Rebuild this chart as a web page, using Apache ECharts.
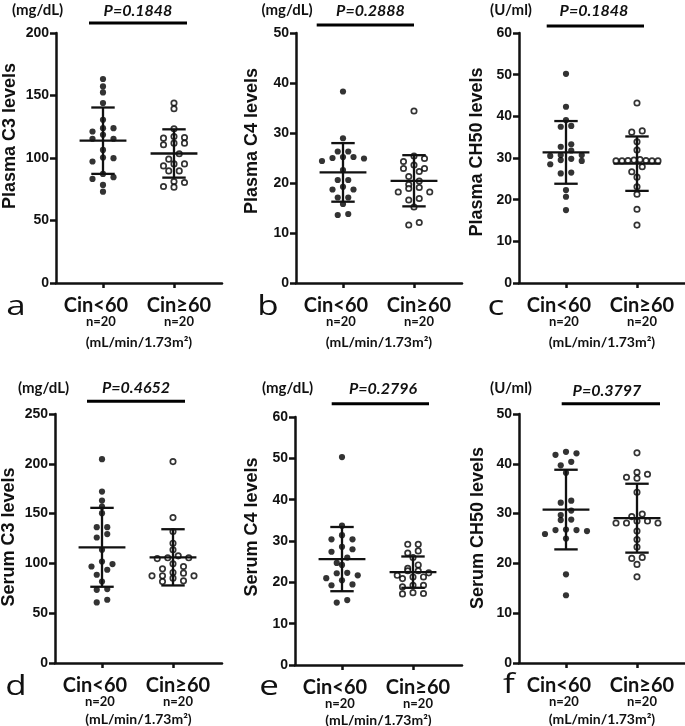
<!DOCTYPE html>
<html><head><meta charset="utf-8">
<script src="https://cdn.jsdelivr.net/npm/echarts@6/dist/echarts.min.js"></script>
<style>html,body{margin:0;padding:0;background:#fff}#chart{width:685px;height:726px}</style>
</head><body><div id="chart"></div>
<script>
// ---------------- DATA ----------------
const categories = ['Cin<60', 'Cin\u226560'];
const nLabels = ['n=20', 'n=20'];
const xUnitLabel = '(mL/min/1.73m\u00b2)';
const panelLetters = ['a', 'b', 'c', 'd', 'e', 'f'];
const yTitles = ['Plasma C3 levels', 'Plasma C4 levels', 'Plasma CH50 levels', 'Serum C3 levels', 'Serum C4 levels', 'Serum CH50 levels'];
const unitLabels = ['(mg/dL)', '(mg/dL)', '(U/ml)', '(mg/dL)', '(mg/dL)', '(U/ml)'];
const pValues = ['P=0.1848', 'P=0.2888', 'P=0.1848', 'P=0.4652', 'P=0.2796', 'P=0.3797'];
const yMax = [200, 50, 60, 250, 60, 50];
const yInterval = [50, 10, 10, 50, 10, 10];

const plasmaC3_lt60 = [163.2, 157.3, 152.5, 144.0, 130.6, 123.9, 123.9, 121.2, 118.6, 115.4, 115.4, 106.5, 99.9, 100.4, 97.2, 87.3, 84.7, 83.3, 78.5, 73.1];
const plasmaC3_ge60 = [144.0, 139.4, 123.4, 116.4, 115.9, 117.2, 111.9, 110.6, 111.9, 103.4, 99.1, 95.3, 93.7, 95.3, 89.7, 89.7, 80.4, 81.2, 76.7, 77.2];
const plasmaC4_lt60 = [38.3, 28.95, 26.3, 26.3, 25.2, 25.0, 25.2, 24.9, 24.4, 22.6, 20.6, 20.6, 19.25, 18.7, 18.7, 17.1, 17.1, 15.8, 13.6, 13.8];
const plasmaC4_ge60 = [34.4, 25.4, 24.9, 24.3, 23.6, 22.9, 22.9, 22.3, 21.3, 20.4, 19.7, 19.1, 18.9, 18.2, 18.2, 16.9, 16.6, 15.2, 12.1, 11.6];
const plasmaCH50_lt60 = [50.2, 42.3, 39.1, 37.5, 37.7, 33.3, 32.7, 31.8, 30.5, 30.7, 30.7, 29.3, 29.5, 29.8, 28.5, 26.5, 26.3, 22.3, 20.7, 17.5];
const plasmaCH50_ge60 = [43.2, 36.5, 36.2, 33.9, 31.9, 29.5, 29.3, 29.3, 29.4, 29.4, 29.3, 29.3, 29.6, 27.9, 26.7, 25.4, 23.1, 21.3, 17.7, 13.9];
const serumC3_lt60 = [204.6, 172.1, 163.1, 157.0, 150.4, 136.4, 136.4, 129.4, 126.0, 113.6, 101.9, 96.9, 99.3, 93.6, 88.6, 81.8, 73.5, 74.2, 60.8, 63.5];
const serumC3_ge60 = [202.2, 146.0, 132.0, 120.3, 113.6, 105.6, 107.6, 105.6, 104.8, 99.6, 94.6, 96.9, 87.5, 87.5, 90.9, 90.2, 87.5, 81.8, 85.2, 82.5];
const serumC4_lt60 = [50.3, 33.7, 31.4, 30.4, 30.4, 28.6, 28.0, 27.4, 26.0, 24.7, 24.2, 22.3, 22.2, 21.7, 21.0, 20.5, 19.5, 19.3, 15.7, 15.1];
const serumC4_ge60 = [29.2, 29.2, 27.6, 27.1, 26.0, 24.2, 23.4, 22.8, 22.8, 22.3, 21.7, 21.3, 21.3, 20.9, 19.3, 19.3, 18.9, 17.5, 17.3, 17.2];
const serumCH50_lt60 = [42.4, 42.1, 41.8, 40.4, 39.7, 38.2, 32.6, 32.2, 30.6, 29.7, 28.8, 28.7, 26.8, 26.7, 26.7, 26.5, 25.9, 25.0, 17.8, 13.6];
const serumCH50_ge60 = [42.2, 38.3, 37.9, 37.3, 37.1, 34.3, 29.9, 29.4, 28.5, 28.5, 28.1, 28.1, 28.1, 26.5, 24.8, 23.3, 21.2, 21.0, 19.8, 17.3];

const groupsLt60 = [plasmaC3_lt60, plasmaC4_lt60, plasmaCH50_lt60, serumC3_lt60, serumC4_lt60, serumCH50_lt60];
const groupsGe60 = [plasmaC3_ge60, plasmaC4_ge60, plasmaCH50_ge60, serumC3_ge60, serumC4_ge60, serumCH50_ge60];

// ---------------- LAYOUT / STYLE ----------------
const grids = [
  {left: 56, top: 33, width: 166, height: 250},
  {left: 296, top: 33, width: 166, height: 250},
  {left: 519, top: 33, width: 166, height: 250},
  {left: 55, top: 414, width: 167, height: 249},
  {left: 295, top: 417, width: 167, height: 248},
  {left: 519, top: 414, width: 166, height: 249}
];
const nameGaps = [52, 52, 52, 49, 48, 49];
const CAT_PX = 71, FIRST_PX = 47;
const LABEL_SHIFT = [-0.1, 0.07];   // label anchor offset from category tick (axis units)
const yTitlePos = [[10, 136], [252, 141], [477, 152], [9, 537], [252, 527], [478, 528]];
const unitPos = [[37.5, 10], [287, 10], [511, 10], [43.5, 388], [287.5, 388], [511, 388]];
const pTextPos = [[138, 10.5], [370.5, 11], [594, 11], [136, 387.5], [383, 389], [607, 391]];
const pLinePos = [[89, 187, 23], [316.7, 414, 25], [546.7, 644, 26], [87, 185, 401.3], [331.7, 429, 403.7], [561.7, 660, 403.7]];
const letterPos = [[16, 317], [268, 317], [496, 317], [16, 697], [269, 697], [509, 695]];

const INK = '#111';
const ROW_H = 5.5, SPACING = 10.5, MAX_W = 42;

function swarm(values, pxPerY, pxPerX) {
  const idx = values.map((v, i) => i).sort((i, j) => values[j] - values[i]);
  const offs = new Array(values.length).fill(0);
  let k = 0;
  while (k < idx.length) {
    const start = values[idx[k]];
    const row = [];
    while (k < idx.length && (start - values[idx[k]]) * pxPerY < ROW_H) { row.push(idx[k]); k++; }
    const n = row.length;
    const s = n > 1 ? Math.min(SPACING, MAX_W / (n - 1)) : 0;
    const slots = [];
    if (n % 2 === 1) {
      slots.push(0);
      for (let j = 1; slots.length < n; j++) { slots.push(j); if (slots.length < n) slots.push(-j); }
    } else {
      for (let j = 0; slots.length < n; j++) { slots.push(j + 0.5); slots.push(-(j + 0.5)); }
    }
    row.forEach((id, r) => { offs[id] = slots[r] * s / pxPerX; });
  }
  return offs;
}
function meanSd(arr) {
  const m = arr.reduce((a, b) => a + b, 0) / arr.length;
  const v = arr.reduce((a, b) => a + (b - m) * (b - m), 0) / (arr.length - 1);
  return [m, Math.sqrt(v)];
}

const option = {
  animation: false,
  backgroundColor: '#fff',
  grid: [], xAxis: [], yAxis: [], series: [], graphic: []
};

for (let p = 0; p < 6; p++) {
  const g = grids[p];
  option.grid.push(Object.assign({outerBoundsMode: 'none', containLabel: false}, g));
  const xMin = -FIRST_PX / CAT_PX;
  const xMax = 1 + (g.width - FIRST_PX - CAT_PX) / CAT_PX;
  option.xAxis.push({
    type: 'value', gridIndex: p, min: xMin, max: xMax,
    splitLine: {show: false},
    axisLine: {show: true, onZero: false, lineStyle: {color: INK, width: 2.5}},
    axisTick: {show: true, customValues: [0, 1], length: 5, lineStyle: {color: INK, width: 2.5}},
    axisLabel: {
      show: true, customValues: [LABEL_SHIFT[0], 1 + LABEL_SHIFT[1]], margin: 13,
      showMinLabel: true, showMaxLabel: true, hideOverlap: false,
      formatter: function (v) {
        return v < 0.5
          ? '{a|' + categories[0] + '}\n{b|' + nLabels[0] + '}'
          : '{a|' + categories[1] + '}\n{c|' + nLabels[1] + '}';
      },
      rich: {
        a: {fontFamily: 'Lato', fontWeight: 'bold', fontSize: 20, lineHeight: 20, color: INK},
        b: {fontFamily: 'Lato', fontWeight: 'bold', fontSize: 13, lineHeight: 12, color: INK, padding: [0, 0, 0, 10]},
        c: {fontFamily: 'Lato', fontWeight: 'bold', fontSize: 13, lineHeight: 12, color: INK}
      }
    },
    name: xUnitLabel, nameLocation: 'middle', nameGap: nameGaps[p],
    nameTextStyle: {fontFamily: 'Lato', fontWeight: 'bold', fontSize: 14, color: INK}
  });
  option.yAxis.push({
    type: 'value', gridIndex: p, min: 0, max: yMax[p], interval: yInterval[p],
    splitLine: {show: false},
    axisLine: {show: true, onZero: false, lineStyle: {color: INK, width: 2.5}},
    axisTick: {show: true, length: 6, lineStyle: {color: INK, width: 2.5}},
    axisLabel: {margin: 7, fontFamily: 'Liberation Sans', fontWeight: 'bold', fontSize: 14, color: INK}
  });

  const pxPerY = g.height / yMax[p];
  const groups = [groupsLt60[p], groupsGe60[p]];
  const stats = [];
  groups.forEach((vals, gi) => {
    const offs = swarm(vals, pxPerY, CAT_PX);
    stats.push([gi].concat(meanSd(vals)));
    option.series.push({
      type: 'scatter', xAxisIndex: p, yAxisIndex: p, z: 2,
      symbol: 'circle',
      symbolSize: gi === 0 ? 6.2 : 5.4,
      itemStyle: gi === 0 ? {color: '#000'} : {color: '#fff', borderColor: '#000', borderWidth: 1.7},
      data: vals.map((v, i) => [gi + offs[i], v])
    });
  });
  option.series.push({
    type: 'custom', xAxisIndex: p, yAxisIndex: p, z: 3,
    data: stats,
    renderItem: function (params, api) {
      const x = api.value(0), m = api.value(1), s = api.value(2);
      const ml = api.coord([x - 0.33, m]), mr = api.coord([x + 0.33, m]);
      const tl = api.coord([x - 0.165, m + s]), tr = api.coord([x + 0.165, m + s]);
      const bl = api.coord([x - 0.165, m - s]), br = api.coord([x + 0.165, m - s]);
      const ct = api.coord([x, m + s]), cb = api.coord([x, m - s]);
      const st = {stroke: '#111', lineWidth: 2.3, fill: null};
      return {type: 'group', children: [
        {type: 'line', shape: {x1: ml[0], y1: ml[1], x2: mr[0], y2: mr[1]}, style: st},
        {type: 'line', shape: {x1: tl[0], y1: tl[1], x2: tr[0], y2: tr[1]}, style: st},
        {type: 'line', shape: {x1: bl[0], y1: bl[1], x2: br[0], y2: br[1]}, style: st},
        {type: 'line', shape: {x1: ct[0], y1: ct[1], x2: cb[0], y2: cb[1]}, style: st}
      ]};
    }
  });

  // texts
  option.graphic.push({
    type: 'text', x: yTitlePos[p][0], y: yTitlePos[p][1], rotation: Math.PI / 2,
    style: {text: yTitles[p], font: 'bold 18px "Liberation Sans"', fill: INK,
      textAlign: 'center', textVerticalAlign: 'middle', align: 'center', verticalAlign: 'middle'}
  });
  option.graphic.push({
    type: 'text', x: unitPos[p][0], y: unitPos[p][1],
    style: {text: unitLabels[p], font: 'bold 15px Lato', fill: INK,
      textAlign: 'center', textVerticalAlign: 'middle', align: 'center', verticalAlign: 'middle'}
  });
  option.graphic.push({
    type: 'text', x: pTextPos[p][0], y: pTextPos[p][1],
    style: {text: pValues[p], font: 'italic bold 16px Lato', fill: INK,
      textAlign: 'center', textVerticalAlign: 'middle', align: 'center', verticalAlign: 'middle'}
  });
  option.graphic.push({
    type: 'line', shape: {x1: pLinePos[p][0], y1: pLinePos[p][2], x2: pLinePos[p][1], y2: pLinePos[p][2]},
    style: {stroke: '#000', lineWidth: 3}
  });
  option.graphic.push({
    type: 'text', x: letterPos[p][0], y: letterPos[p][1] - 10, scaleX: 1.25,
    style: {text: panelLetters[p], font: '28px "Open Sans"', fill: INK,
      textAlign: 'center', textVerticalAlign: 'middle', align: 'center', verticalAlign: 'middle'}
  });
}

const chart = echarts.init(document.getElementById('chart'), null, {renderer: 'canvas'});
chart.setOption(option);
</script>
</body></html>
